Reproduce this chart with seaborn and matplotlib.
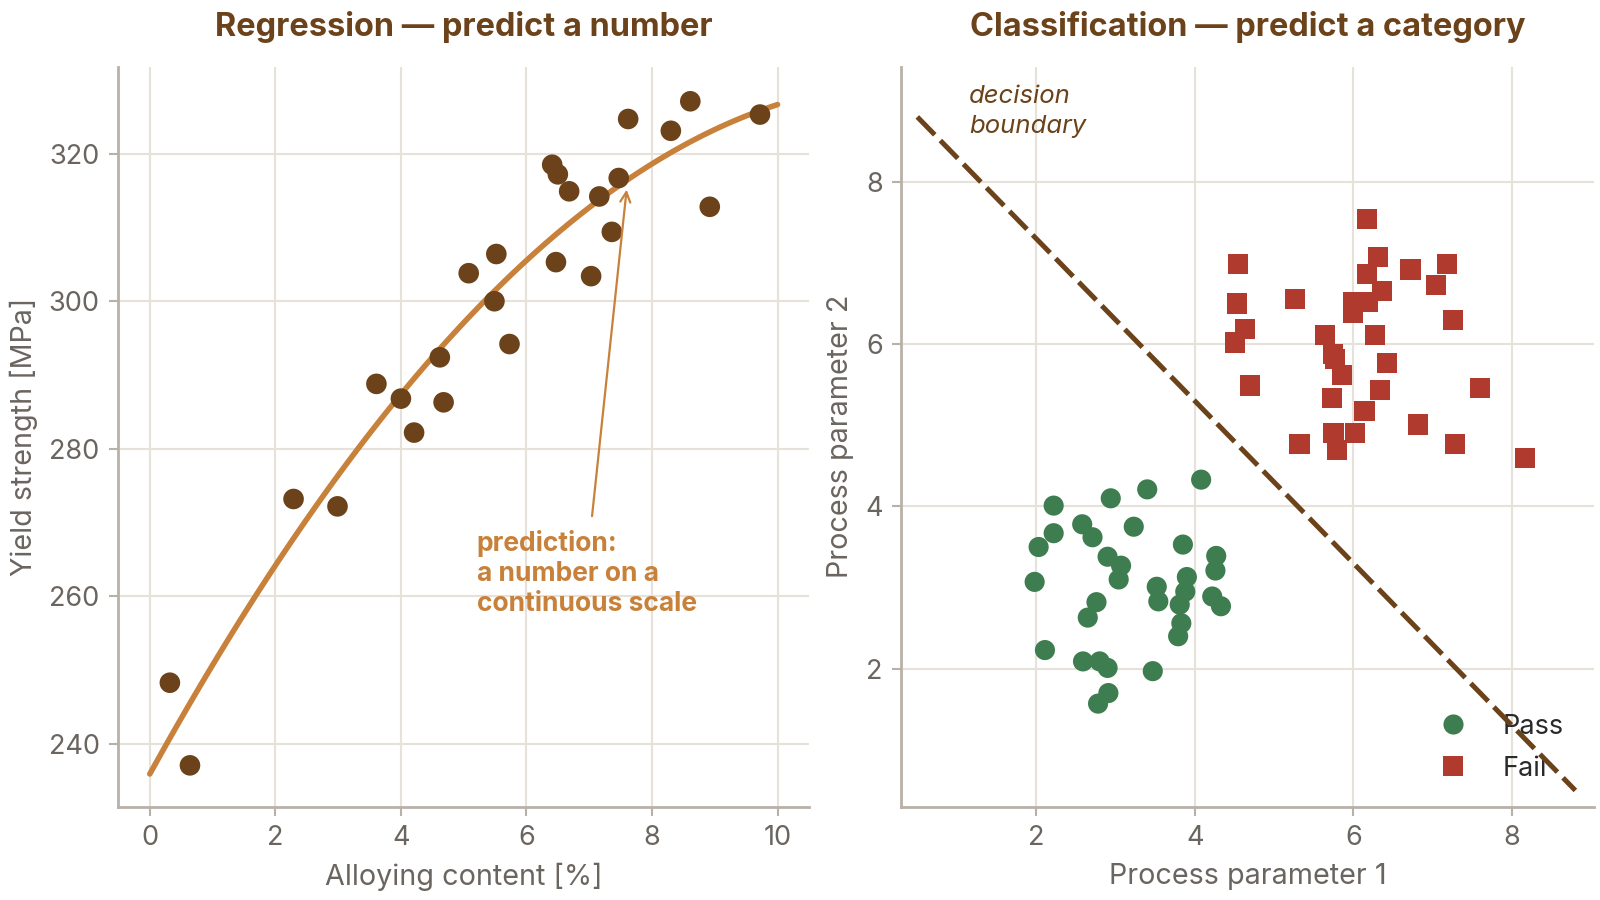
import numpy as np
import pandas as pd
import seaborn as sns
from matplotlib import pyplot as plt

# regression panel data
alloy = [0.32, 0.64, 2.29, 2.99, 3.61, 4.00, 4.21, 4.62, 4.68, 5.08, 5.52, 5.49, 5.73,
         6.41, 6.50, 6.68, 6.47, 7.03, 7.16, 7.36, 7.47, 7.62, 8.30, 8.61, 8.92, 9.72]
strength = [248.3, 237.1, 273.2, 272.2, 288.8, 286.8, 282.2, 292.4, 286.3, 303.8, 306.4, 300.0, 294.2,
            318.5, 317.2, 314.9, 305.3, 303.4, 314.2, 309.4, 316.7, 324.7, 323.1, 327.1, 312.8, 325.3]

# classification panel data
pass_p1 = [2.22, 2.03, 2.22, 1.98, 2.11, 2.58, 2.71, 2.94, 2.90, 3.07, 3.04, 2.76, 2.65, 2.59, 2.80, 2.90, 2.91,
           2.78, 3.23, 3.40, 3.47, 3.52, 3.54, 3.85, 3.90, 3.88, 3.81, 3.83, 3.79, 4.08, 4.27, 4.26, 4.22, 4.33]
pass_p2 = [4.01, 3.50, 3.67, 3.07, 2.23, 3.78, 3.62, 4.10, 3.38, 3.27, 3.10, 2.82, 2.63, 2.09, 2.09, 2.01, 1.70,
           1.57, 3.75, 4.21, 1.97, 3.01, 2.83, 3.53, 3.13, 2.95, 2.79, 2.56, 2.40, 4.33, 3.39, 3.21, 2.89, 2.77]
fail_p1 = [6.17, 4.54, 6.31, 6.17, 6.72, 7.18, 7.04, 6.36, 4.53, 5.26, 6.00, 6.18, 5.99, 4.63, 4.51, 7.26, 5.64,
           6.27, 5.74, 5.77, 6.42, 5.86, 4.70, 7.60, 6.34, 5.73, 6.14, 6.81, 5.75, 6.02, 5.32, 5.79, 7.28, 8.16]
fail_p2 = [7.54, 6.99, 7.07, 6.86, 6.92, 6.99, 6.73, 6.66, 6.50, 6.56, 6.52, 6.52, 6.38, 6.19, 6.02, 6.30, 6.11,
           6.11, 5.88, 5.82, 5.77, 5.62, 5.49, 5.46, 5.43, 5.34, 5.18, 5.01, 4.91, 4.91, 4.77, 4.70, 4.77, 4.60]
boundary_x = [0.5, 8.8]
boundary_y = [8.8, 0.5]

BROWN = '#6b4219'
ORANGE = '#c8813a'
GREEN = '#3d7d4f'
RED = '#b03a2e'
TICK = '#6b6560'
SPINE = '#b8b1a9'
GRID = '#e7e2d9'

sns.set_theme(style='whitegrid')
plt.rcParams['font.family'] = ['Inter', 'DejaVu Sans']
plt.rcParams.update({
    'axes.edgecolor': SPINE, 'axes.linewidth': 2, 'grid.color': GRID, 'grid.linewidth': 1.5,
    'xtick.color': SPINE, 'ytick.color': SPINE, 'xtick.labelcolor': TICK, 'ytick.labelcolor': TICK,
    'xtick.labelsize': 19.5, 'ytick.labelsize': 19.5, 'axes.labelsize': 20.7, 'axes.labelcolor': TICK,
    'xtick.major.size': 6.5, 'ytick.major.size': 6.5, 'xtick.major.width': 1.5, 'ytick.major.width': 1.5,
    'xtick.bottom': True, 'ytick.left': True, 'xtick.major.pad': 7, 'ytick.major.pad': 7,
})

reg_df = pd.DataFrame({'alloy': alloy, 'strength': strength})
cls_df = pd.DataFrame({
    'p1': pass_p1 + fail_p1,
    'p2': pass_p2 + fail_p2,
    'result': ['Pass'] * len(pass_p1) + ['Fail'] * len(fail_p1),
})

fig, (ax1, ax2) = plt.subplots(1, 2, figsize=(16, 9), dpi=100)
ax1.set_position([0.074, 0.1037, 0.4316, 0.8223])
ax2.set_position([0.5634, 0.1037, 0.4326, 0.8223])

# --- regression ---
ax1.set_xlim(0, 10)
sns.regplot(data=reg_df, x='alloy', y='strength', order=2, ci=None, scatter=False, truncate=False,
            line_kws={'color': ORANGE, 'lw': 4}, ax=ax1)
sns.scatterplot(data=reg_df, x='alloy', y='strength', color=BROWN, s=220, edgecolor='none', zorder=3, ax=ax1)
ax1.set_xlim(-0.5, 10.5)
ax1.set_ylim(231.5, 331.8)
ax1.set_xticks([0, 2, 4, 6, 8, 10])
ax1.set_yticks([240, 260, 280, 300, 320])
ax1.annotate('', xy=(7.6, 315.5), xytext=(7.04, 270.5),
             arrowprops=dict(arrowstyle='->', color=ORANGE, lw=1.6, mutation_scale=18))
ax1.text(5.21, 269.0, 'prediction:\na number on a\ncontinuous scale', ha='left', va='top',
         fontsize=19, fontweight='bold', color=ORANGE, linespacing=1.2)
ax1.set_xlabel('Alloying content [%]', labelpad=8)
ax1.set_ylabel('Yield strength [MPa]', labelpad=8)
ax1.set_title('Regression — predict a number', fontsize=23.4, fontweight='bold', color=BROWN, pad=22)

# --- classification ---
sns.scatterplot(data=cls_df, x='p1', y='p2', hue='result', style='result',
                palette={'Pass': GREEN, 'Fail': RED}, markers={'Pass': 'o', 'Fail': 's'},
                s=210, edgecolor='none', zorder=3, ax=ax2)
sns.lineplot(x=boundary_x, y=boundary_y, color=BROWN, lw=3.6, ax=ax2, zorder=6)
ax2.lines[-1].set_linestyle((0, (5, 1.6)))
ax2.text(1.15, 9.19, 'decision\nboundary', ha='left', va='top', fontsize=18.5, style='italic',
         color=BROWN, linespacing=1.35)
ax2.set_xlim(0.3, 9.03)
ax2.set_ylim(0.3, 9.42)
ax2.set_xticks([2, 4, 6, 8])
ax2.set_yticks([2, 4, 6, 8])
ax2.set_xlabel('Process parameter 1', labelpad=8)
ax2.set_ylabel('Process parameter 2', labelpad=8)
ax2.set_title('Classification — predict a category', fontsize=23.4, fontweight='bold', color=BROWN, pad=22)
leg = ax2.legend(loc='center', bbox_to_anchor=(0.857, 0.0796), frameon=False, fontsize=19.5,
                 handletextpad=0.85, labelspacing=0.58, markerscale=1.0)
for t in leg.get_texts():
    t.set_color('#2a2a2a')
leg.set_zorder(1)

for ax in (ax1, ax2):
    sns.despine(ax=ax)
    ax.grid(True, color=GRID, lw=1.5)
    ax.set_axisbelow(True)

fig.savefig('out.png', dpi=100)
